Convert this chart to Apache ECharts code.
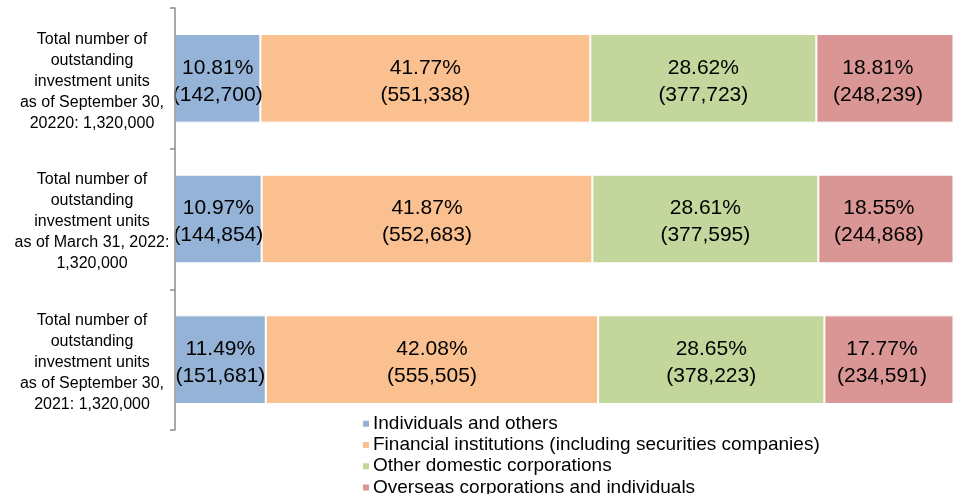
<!DOCTYPE html>
<html lang="en">
<head>
    <meta charset="UTF-8">
    <title>Unitholder composition</title>
    <style>
        * { margin: 0; padding: 0; box-sizing: border-box; }
        body { background: #fff; }
        #chart { width: 953px; height: 494px; }
    </style>
    <script src="https://cdn.jsdelivr.net/npm/echarts@6/dist/echarts.min.js"></script>
</head>
<body>
    <div id="chart"></div>
    <script>
        // categories, top to bottom
        const categories = [
            'Total number of\noutstanding\ninvestment units\nas of September 30,\n20220: 1,320,000',
            'Total number of\noutstanding\ninvestment units\nas of March 31, 2022:\n1,320,000',
            'Total number of\noutstanding\ninvestment units\nas of September 30,\n2021: 1,320,000'
        ];
        const seriesNames = [
            'Individuals and others',
            'Financial institutions (including securities companies)',
            'Other domestic corporations',
            'Overseas corporations and individuals'
        ];
        // share in percent
        const individualsPct = [10.81, 10.97, 11.49];
        const financialPct = [41.77, 41.87, 42.08];
        const domesticPct = [28.62, 28.61, 28.65];
        const overseasPct = [18.81, 18.55, 17.77];
        // unit counts
        const individualsUnits = ['142,700', '144,854', '151,681'];
        const financialUnits = ['551,338', '552,683', '555,505'];
        const domesticUnits = ['377,723', '377,595', '378,223'];
        const overseasUnits = ['248,239', '244,868', '234,591'];

        const colors = ['#95B3D7', '#FAC090', '#C3D69B', '#D99694'];
        const pctList = [individualsPct, financialPct, domesticPct, overseasPct];
        const unitList = [individualsUnits, financialUnits, domesticUnits, overseasUnits];

        const chart = echarts.init(document.getElementById('chart'));

        const series = seriesNames.map(function (name, i) {
            return {
                name: name,
                type: 'bar',
                stack: 'total',
                barWidth: '63%',
                data: pctList[i],
                itemStyle: { color: colors[i], borderColor: '#fff', borderWidth: 1 },
                label: {
                    show: true,
                    position: 'inside',
                    color: '#000',
                    fontSize: 21,
                    lineHeight: 27,
                    // last segment is cut by the edge, its label sits a bit left
                    offset: [i === 3 ? -7 : 0, 3],
                    formatter: function (p) {
                        return p.value.toFixed(2) + '%\n(' + unitList[i][p.dataIndex] + ')';
                    }
                }
            };
        });

        chart.setOption({
            animation: false,
            textStyle: { fontFamily: 'Liberation Sans, Arial, sans-serif' },
            // the bars run past the right edge of the picture
            grid: { left: 175, right: 0, top: 8, bottom: 64, outerBoundsMode: 'none' },
            xAxis: {
                type: 'value',
                min: 0,
                max: 98.5,
                show: false
            },
            yAxis: {
                type: 'category',
                inverse: true,
                z: 5,
                data: categories,
                axisLine: { show: true, lineStyle: { color: '#8c8c8c', width: 1.5 } },
                axisTick: { show: true, inside: false, interval: 0, length: 5, lineStyle: { color: '#8c8c8c', width: 1.5 } },
                axisLabel: {
                    color: '#000',
                    fontSize: 16,
                    align: 'center',
                    margin: 83,
                    rich: { t: { fontSize: 16, lineHeight: 21, padding: [6, 0, 0, 0] } },
                    formatter: function (v) {
                        return '{t|' + v.split('\n').join('}\n{t|') + '}';
                    }
                }
            },
            legend: {
                orient: 'vertical',
                left: 356,
                top: 408,
                height: 120,
                icon: 'rect',
                itemWidth: 8,
                itemHeight: 8,
                itemGap: 0,
                textStyle: { fontSize: 19, color: '#000', lineHeight: 21.3, padding: [0, 0, 0, -2] },
                data: seriesNames
            },
            series: series
        });
    </script>
</body>
</html>
